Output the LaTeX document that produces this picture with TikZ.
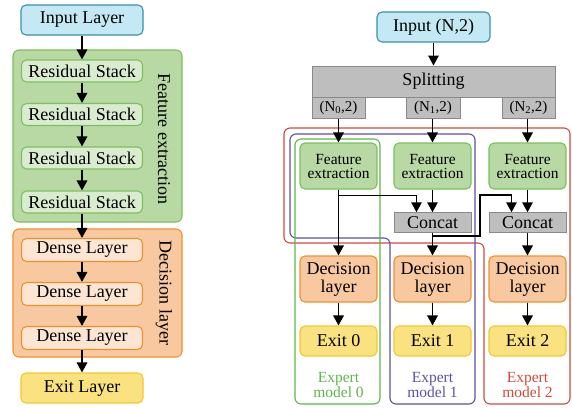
\documentclass[tikz,border=0pt]{standalone}
\usepackage{fontspec}
\setmainfont{Liberation Serif}
\newfontfamily\timesf{Liberation Serif}
\usetikzlibrary{arrows.meta,calc}
\definecolor{cyanF}{HTML}{C4E9F5}
\definecolor{cyanD}{HTML}{3A8FAA}
\definecolor{grnC}{HTML}{B8D9A3}
\definecolor{grnL}{HTML}{DAECD0}
\definecolor{grnD}{HTML}{7CBF5F}
\definecolor{orgC}{HTML}{F8C9A0}
\definecolor{orgL}{HTML}{FCE5D2}
\definecolor{orgD}{HTML}{F0902D}
\definecolor{yelF}{HTML}{F9E27F}
\definecolor{yelD}{HTML}{F2C82E}
\definecolor{gryF}{HTML}{BEBEBE}
\definecolor{gryD}{HTML}{8A8A8A}
\definecolor{exG}{HTML}{5DB648}
\definecolor{exP}{HTML}{5E4FA2}
\definecolor{exR}{HTML}{CF4A3C}
\begin{document}
\begin{tikzpicture}[x=1pt,y=-1pt,
  base/.style={draw, line width=1.1pt, rounded corners=5pt, inner sep=0pt, align=center,
     font=\timesf\fontsize{18}{18}\selectfont},
  inbox/.style={base, fill=cyanF, draw=cyanD},
  resbox/.style={base, fill=grnL, draw=grnD, minimum width=121pt, minimum height=22pt},
  denbox/.style={base, fill=orgL, draw=orgD, minimum width=121pt, minimum height=23pt},
  exbox/.style={base, fill=yelF, draw=yelD},
  febox/.style={base, fill=grnC, draw=grnD, minimum width=77pt, minimum height=46pt,
     font=\timesf\fontsize{15.5}{14}\selectfont},
  decbox/.style={base, fill=orgC, draw=orgD, minimum width=77pt, minimum height=46pt,
     font=\timesf\fontsize{18}{18}\selectfont},
  graybox/.style={draw=gryD, fill=gryF, line width=1pt, inner sep=0pt,
     font=\timesf\fontsize{18}{18}\selectfont},
  subbox/.style={graybox, font=\timesf\fontsize{15}{15}\selectfont},
  contl/.style={line width=1.1pt, rounded corners=6pt},
  rotlab/.style={rotate=-90, inner sep=0pt, font=\timesf\fontsize{18}{18}\selectfont},
  exlab/.style={inner sep=0pt, align=center, font=\timesf\fontsize{15.5}{15}\selectfont},
  arr/.style={line width=1.6pt, -{Triangle[length=10pt,width=10.5pt]}},
]
\useasboundingbox (0,0) rectangle (572,407);

% ---------- left ----------
\draw[contl, fill=grnC, draw=grnD] (13,50) rectangle (182,222);
\draw[contl, fill=orgC, draw=orgD] (13,229) rectangle (182,357);

\node[inbox, minimum width=122pt, minimum height=30pt] (inL) at (82,20) {Input Layer};
\node[resbox] (r1) at (82,71) {Residual Stack};
\node[resbox] (r2) at (82,114.5) {Residual Stack};
\node[resbox] (r3) at (82,158) {Residual Stack};
\node[resbox] (r4) at (82,202) {Residual Stack};
\node[rotlab] (fl) at (164,139) {Feature extraction};
\node[denbox] (d1) at (82,250) {Dense Layer};
\node[denbox] (d2) at (82,294) {Dense Layer};
\node[denbox] (d3) at (82,338) {Dense Layer};
\node[rotlab] (dl) at (164,293) {Decision layer};
\node[exbox, minimum width=122pt, minimum height=30pt] (exL) at (82,388) {Exit Layer};

\draw[arr] (inL) -- (r1);
\draw[arr] (r1) -- (r2);
\draw[arr] (r2) -- (r3);
\draw[arr] (r3) -- (r4);
\draw[arr] (r4) -- (d1);
\draw[arr] (d1) -- (d2);
\draw[arr] (d2) -- (d3);
\draw[arr] (d3) -- (exL);

% ---------- right: containers ----------
\draw[contl, draw=exR] (284,128) -- (570,128) -- (570,404) -- (484,404) -- (484,243) -- (284,243) -- cycle;
\draw[contl, draw=exP] (290,134) -- (475,134) -- (475,404) -- (390,404) -- (390,238) -- (290,238) -- cycle;
\draw[contl, draw=exG] (295,139) rectangle (380,404);

% ---------- right: nodes ----------
\node[inbox, minimum width=113pt, minimum height=30pt] (inR) at (433.5,27) {Input (N,2)};
\node[graybox, minimum width=243pt, minimum height=31pt] (sp) at (433.5,81.5) {Splitting};
\node[subbox, minimum width=53pt, minimum height=21pt] (s0) at (338.5,107.5) {(N\textsubscript{0},2)};
\node[subbox, minimum width=54pt, minimum height=21pt] (s1) at (433,107.5) {(N\textsubscript{1},2)};
\node[subbox, minimum width=53pt, minimum height=21pt] (s2) at (528.5,107.5) {(N\textsubscript{2},2)};

\node[febox] (fe0) at (338.5,166) {Feature\\extraction};
\node[febox] (fe1) at (432.5,166) {Feature\\extraction};
\node[febox] (fe2) at (527.5,166) {Feature\\extraction};

\node[graybox, minimum width=77pt, minimum height=19.5pt] (cc1) at (432.5,222.5) {Concat};
\node[graybox, minimum width=77pt, minimum height=19.5pt] (cc2) at (527.5,222.5) {Concat};

\node[decbox] (dc0) at (338.5,279) {Decision\\layer};
\node[decbox] (dc1) at (432.5,279) {Decision\\layer};
\node[decbox] (dc2) at (527.5,279) {Decision\\layer};

\node[exbox, minimum width=77pt, minimum height=30pt] (ex0) at (338.5,341) {Exit 0};
\node[exbox, minimum width=77pt, minimum height=30pt] (ex1) at (432.5,341) {Exit 1};
\node[exbox, minimum width=77pt, minimum height=30pt] (ex2) at (527.5,341) {Exit 2};

\node[exlab, text=exG] (m0) at (338.5,385) {Expert\\model 0};
\node[exlab, text=exP] (m1) at (432.5,385) {Expert\\model 1};
\node[exlab, text=exR] (m2) at (527.5,385) {Expert\\model 2};

% ---------- right: connectors ----------
\draw[arr] (inR) -- (sp);
\draw[arr] (s0.south -| fe0.north) -- (fe0.north);
\draw[arr] (s1.south -| fe1.north) -- (fe1.north);
\draw[arr] (s2.south -| fe2.north) -- (fe2.north);

\draw[arr] (fe0) -- (dc0);
\draw[arr] (fe1) -- (cc1);
\draw[arr] (fe2) -- (cc2);
\draw[arr] (cc1) -- (dc1);
\draw[arr] (cc2) -- (dc2);

\coordinate (j0) at ($(fe0.south)+(0,6)$);
\coordinate (t1) at ($(cc1.north)+(-16,0)$);
\draw[arr] (j0) -| (t1);

\coordinate (j1) at ($(cc1.south)+(0,3)$);
\coordinate (k1) at (480,195);
\coordinate (t2) at ($(cc2.north)+(-16,0)$);
\draw[arr] (j1) -| (k1) -| (t2);

\draw[arr] (dc0) -- (ex0);
\draw[arr] (dc1) -- (ex1);
\draw[arr] (dc2) -- (ex2);
\end{tikzpicture}
\end{document}
